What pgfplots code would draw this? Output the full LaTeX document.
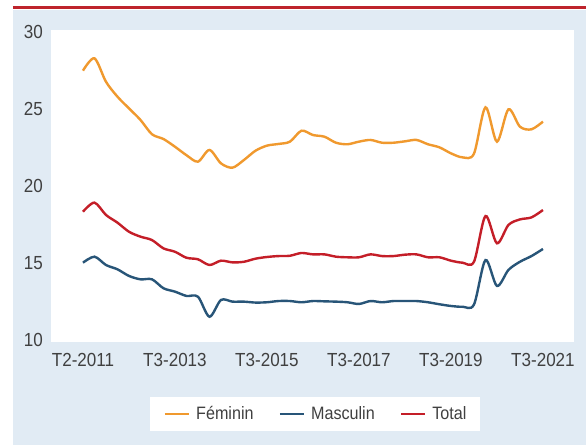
\documentclass[border=0pt]{standalone}
\usepackage{fontspec}
\setmainfont{Liberation Sans}[FakeStretch=0.9]
\usepackage{pgfplots}
\pgfplotsset{compat=1.18}
\usepackage{pgfplotstable}
\definecolor{fem}{RGB}{240,153,46}
\definecolor{mas}{RGB}{40,85,120}
\definecolor{tot}{RGB}{196,30,40}
\definecolor{bgblue}{RGB}{225,235,244}
\definecolor{topred}{RGB}{190,36,44}
\definecolor{textgray}{RGB}{64,64,64}
\pgfplotstableread{
i f m t
0 27.49 15.02 18.33
1 28.29 15.41 18.92
2 26.77 14.87 18.12
3 25.80 14.59 17.62
4 25.04 14.16 17.03
5 24.29 13.94 16.71
6 23.36 13.94 16.49
7 23.05 13.36 15.95
8 22.55 13.14 15.73
9 22.00 12.86 15.34
10 21.58 12.81 15.24
11 22.34 11.51 14.87
12 21.47 12.60 15.15
13 21.19 12.49 15.04
14 21.69 12.49 15.08
15 22.29 12.43 15.28
16 22.62 12.45 15.39
17 22.73 12.53 15.45
18 22.88 12.53 15.47
19 23.59 12.45 15.65
20 23.31 12.53 15.56
21 23.20 12.51 15.56
22 22.81 12.49 15.41
23 22.71 12.45 15.37
24 22.88 12.34 15.37
25 22.99 12.53 15.56
26 22.81 12.45 15.45
27 22.81 12.53 15.45
28 22.90 12.53 15.54
29 22.99 12.53 15.56
30 22.71 12.45 15.37
31 22.51 12.32 15.37
32 22.12 12.21 15.15
33 21.86 12.16 15.02
34 22.10 12.30 15.08
35 25.11 15.19 18.05
36 22.88 13.51 16.28
37 24.98 14.55 17.47
38 23.85 15.08 17.83
39 23.68 15.45 17.96
40 24.18 15.91 18.44
}\datatable
\begin{document}
\begin{tikzpicture}[x=1bp,y=1bp]
\useasboundingbox (-51,-103) rectangle (535,342);
\fill[white] (-51,-103) rectangle (535,342);
\fill[bgblue] (-38,-103) rectangle (535,332.3);
\draw[topred, line width=3bp] (-38,334) -- (535,334);
\begin{axis}[
  at={(0,0)}, anchor=south west,
  width=523bp, height=312bp, scale only axis,
  xmin=-2.78, xmax=42.7, ymin=9.87, ymax=30.13,
  axis background/.style={fill=white},
  axis line style={draw=none},
  major tick length=0pt,
  xtick={0,8,16,24,32,40},
  xticklabels={T2-2011,T3-2013,T3-2015,T3-2017,T3-2019,T3-2021},
  ytick={10,15,20,25,30},
  tick label style={font=\fontsize{19}{21}\selectfont, text=textgray},
  xticklabel style={inner sep=0pt, anchor=north, yshift=-11bp},
  yticklabel style={inner sep=0pt, anchor=east, xshift=-8bp},
  /pgf/number format/assume math mode=true,
  legend columns=3,
  legend style={at={(0.5048,-0.2308)}, anchor=center, draw=none, fill=white,
    font=\fontsize{18}{20}\selectfont, text=textgray,
    inner xsep=14bp, inner ysep=10bp,
    nodes={inner sep=0pt},
    /tikz/every odd column/.append style={column sep=6bp},
    /tikz/every even column/.append style={column sep=25bp}},
  legend image code/.code={\draw[#1, line width=2.5bp] (0bp,0bp) -- (24bp,0bp);},
  every axis plot/.append style={line width=2.4bp, smooth, tension=0.5},
]
\addplot[fem] table[x=i, y=f] {\datatable};
\addlegendentry{Féminin}
\addplot[mas] table[x=i, y=m] {\datatable};
\addlegendentry{Masculin}
\addplot[tot] table[x=i, y=t] {\datatable};
\addlegendentry{Total}
\end{axis}
\end{tikzpicture}
\end{document}
